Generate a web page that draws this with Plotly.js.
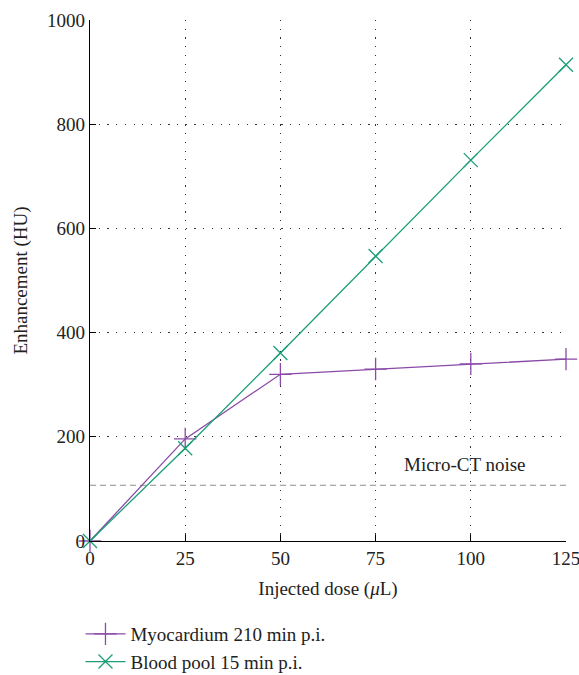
<!DOCTYPE html>
<html><head><meta charset="utf-8">
<script src="https://cdn.plot.ly/plotly-3.0.1.min.js"></script>
<style>body{margin:0;background:#fff}</style>
</head><body><div id="chart" style="width:579px;height:675px"></div>
<script>
const doses = [0, 25, 50, 75, 100, 125];
const myocardium = [0, 196, 320, 330, 340, 349];
const bloodPool = [0, 178, 361, 547, 731, 914];
const noiseX = [0, 125];
const noiseY = [107, 107];
const xTicks = [0, 25, 50, 75, 100, 125];
const yTicks = [0, 200, 400, 600, 800, 1000];

const purple = '#8a4aa8', green = '#1b9e77';
const serif = '"Liberation Serif", "DejaVu Serif", serif';
const fs = 19;

const traces = [
  {x: noiseX, y: noiseY, mode: 'lines', line: {color: '#8c8c8c', width: 1, dash: '6px,4px'}, showlegend: false, hoverinfo: 'skip'},
  {x: doses, y: myocardium, mode: 'lines+markers', name: 'Myocardium 210 min p.i.', cliponaxis: false,
   line: {color: purple, width: 1.3}, marker: {symbol: 'cross-thin', size: 16, line: {color: purple, width: 1.3}}},
  {x: doses, y: bloodPool, mode: 'lines+markers', name: 'Blood pool 15 min p.i.', cliponaxis: false,
   line: {color: green, width: 1.3}, marker: {symbol: 'x-thin', size: 14, line: {color: green, width: 1.3}}}
];

const axisCommon = {
  showline: true, linecolor: '#000', linewidth: 1.2, ticks: 'inside', ticklen: 6, tickcolor: '#000',
  showgrid: true, gridcolor: '#333', griddash: '1.2px,7.5px', gridwidth: 1.2, zeroline: false,
  ticklabeloverflow: 'allow',
  tickfont: {family: serif, size: fs, color: '#222'}
};

const layout = {
  width: 579, height: 675,
  margin: {l: 90, r: 13, t: 20, b: 134, autoexpand: false},
  paper_bgcolor: '#fff', plot_bgcolor: '#fff',
  font: {family: serif, size: fs, color: '#222'},
  xaxis: Object.assign({}, axisCommon, {range: [0, 125], tickvals: xTicks, ticktext: xTicks.map(String),
    title: {text: 'Injected dose (<i>μ</i>L)', font: {family: serif, size: fs}, standoff: 13}}),
  yaxis: Object.assign({}, axisCommon, {range: [0, 1000], tickvals: yTicks, ticktext: yTicks.map(String),
    title: {text: 'Enhancement (HU)', font: {family: serif, size: fs}, standoff: 14}}),
  legend: {x: -0.02, xanchor: 'left', y: -0.142, yanchor: 'top',
    font: {family: serif, size: fs, color: '#222'},
    bgcolor: 'rgba(0,0,0,0)', tracegroupgap: 0, itemwidth: 40},
  annotations: [{x: 98.5, y: 146, xref: 'x', yref: 'y', text: 'Micro-CT noise', showarrow: false,
    font: {family: serif, size: fs, color: '#222'}}]
};

Plotly.newPlot('chart', traces, layout, {displayModeBar: false, staticPlot: true});
</script></body></html>
